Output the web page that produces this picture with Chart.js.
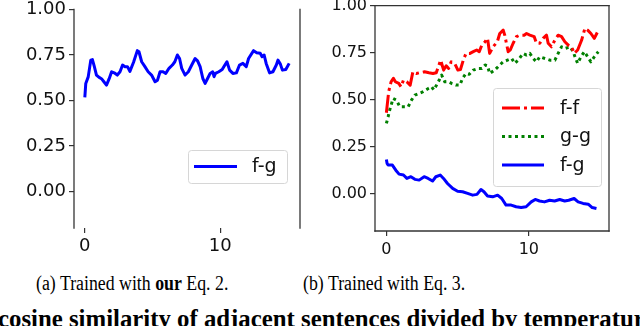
<!DOCTYPE html>
<html><head><meta charset="utf-8">
<script src="https://cdn.jsdelivr.net/npm/chart.js@4"></script>
<style>
html,body{margin:0;padding:0;background:#fff}
body{width:640px;height:326px;overflow:hidden;position:relative}
#c1{position:absolute;left:0;top:-20px;width:320px;height:280px}
#c2{position:absolute;left:320px;top:-20px;width:320px;height:280px}
.cap{position:absolute;font-family:"Liberation Serif","Times New Roman",serif;font-size:20px;white-space:nowrap;color:#000;line-height:1;transform-origin:0 0;transform:scaleX(0.89)}
#capA{left:36px;top:273px}
#capB{left:303px;top:273px}
#foot{left:-2px;top:307px;font-weight:bold;font-size:24.8px;transform:none}
</style></head>
<body>
<canvas id="c1" width="320" height="280"></canvas>
<canvas id="c2" width="320" height="280"></canvas>
<div class="cap" id="capA">(a) Trained with <b>our</b> Eq. 2.</div>
<div class="cap" id="capB">(b) Trained with Eq. 3.</div>
<div class="cap" id="foot">cosine similarity of adjacent sentences divided by temperature</div>
<script>
// ---- data ----
const xTicks = [0, 10];
const yTicks = [0, 0.25, 0.5, 0.75, 1.0];

// (a) Trained with our Eq. 2 : f-g
const aFgX = [0,0.07,0.25,0.44,0.56,0.69,0.86,1.06,1.23,1.41,1.6,1.8,1.98,2.22,2.4,2.6,2.79,2.97,3.15,3.33,3.6,3.88,4.0,4.2,4.44,4.68,4.93,5.19,5.37,5.56,5.78,5.98,6.22,6.47,6.65,6.84,7.0,7.16,7.41,7.65,7.9,8.15,8.33,8.52,8.72,8.89,9.07,9.26,9.45,9.55,9.65,9.9,10.15,10.35,10.5,10.7,10.94,11.2,11.43,11.68,11.93,12.1,12.47,12.7,12.96,13.1,13.25,13.4,13.65,13.9,14.15,14.27,14.45,14.6,14.85,15.1];
const aFgY = [0.517,0.594,0.63,0.722,0.725,0.69,0.64,0.627,0.62,0.603,0.585,0.62,0.658,0.65,0.64,0.658,0.695,0.686,0.686,0.66,0.71,0.774,0.768,0.713,0.686,0.658,0.64,0.603,0.612,0.658,0.658,0.649,0.677,0.695,0.713,0.75,0.731,0.677,0.64,0.658,0.695,0.731,0.718,0.686,0.621,0.594,0.621,0.649,0.658,0.631,0.649,0.658,0.67,0.695,0.713,0.667,0.649,0.652,0.695,0.704,0.686,0.731,0.774,0.763,0.76,0.741,0.75,0.704,0.652,0.658,0.695,0.722,0.7,0.667,0.67,0.704];

// (b) Trained with Eq. 3 : f-f, g-g, f-g
const bFfX = [0,0.16,0.33,0.49,0.63,0.87,1.03,1.2,1.43,1.67,1.86,2.1,2.33,2.68,2.99,3.27,3.5,3.69,3.81,4.02,4.2,4.37,4.55,4.79,5.02,5.2,5.4,5.59,5.87,6.1,6.34,6.52,6.7,6.93,7.1,7.25,7.49,7.79,7.96,8.2,8.31,8.55,8.7,8.9,9.13,9.37,9.67,9.84,10.07,10.38,10.54,10.77,11.0,11.24,11.36,11.59,11.83,12.06,12.3,12.53,12.77,13.0,13.19,13.43,13.71,13.94,14.13,14.36,14.6,14.83];
const bFfY = [0.43,0.542,0.595,0.613,0.595,0.586,0.568,0.604,0.595,0.577,0.648,0.639,0.643,0.648,0.643,0.639,0.643,0.684,0.71,0.657,0.68,0.666,0.701,0.693,0.657,0.66,0.71,0.746,0.746,0.755,0.764,0.755,0.79,0.808,0.826,0.746,0.781,0.808,0.852,0.87,0.843,0.755,0.765,0.8,0.835,0.843,0.843,0.852,0.843,0.835,0.8,0.8,0.826,0.843,0.8,0.781,0.817,0.843,0.835,0.808,0.79,0.781,0.746,0.764,0.817,0.88,0.87,0.852,0.826,0.861];
const bGgX = [0,0.12,0.23,0.47,0.7,0.94,1.22,1.53,1.76,2.0,2.3,2.58,2.94,3.17,3.33,3.52,3.71,3.88,4.1,4.34,4.58,4.88,5.16,5.35,5.59,5.82,6.1,6.46,6.7,6.93,7.1,7.25,7.6,7.96,8.2,8.5,8.8,9.01,9.25,9.6,9.84,10.07,10.31,10.54,10.77,11.13,11.48,11.83,12.06,12.3,12.53,12.89,13.12,13.28,13.43,13.66,13.9,14.13,14.36,14.6,14.88];
const bGgY = [0.373,0.408,0.444,0.506,0.497,0.462,0.462,0.462,0.497,0.524,0.533,0.542,0.559,0.568,0.551,0.577,0.604,0.63,0.595,0.595,0.586,0.577,0.577,0.613,0.639,0.635,0.657,0.666,0.666,0.684,0.68,0.639,0.657,0.684,0.701,0.71,0.719,0.693,0.71,0.746,0.737,0.746,0.719,0.701,0.728,0.719,0.71,0.71,0.746,0.781,0.772,0.781,0.755,0.719,0.693,0.728,0.755,0.728,0.701,0.728,0.755];
const bFgX = [0,0.05,0.12,0.42,0.66,0.89,1.2,1.44,1.72,2.0,2.3,2.65,2.93,3.24,3.47,3.78,4.01,4.29,4.65,5.0,5.35,5.7,6.06,6.36,6.64,6.85,7.1,7.46,7.81,8.1,8.4,8.76,9.11,9.46,9.81,10.17,10.45,10.75,11.1,11.46,11.81,12.17,12.52,12.8,13.18,13.46,13.81,14.17,14.45,14.75];
const bFgY = [0.181,0.16,0.151,0.151,0.124,0.103,0.098,0.08,0.089,0.075,0.071,0.089,0.08,0.066,0.089,0.098,0.08,0.053,0.027,0.012,0.009,0.0,-0.009,-0.005,0.021,0.009,-0.014,-0.018,-0.009,-0.027,-0.062,-0.062,-0.071,-0.075,-0.071,-0.045,-0.032,-0.04,-0.045,-0.036,-0.04,-0.032,-0.04,-0.036,-0.027,-0.045,-0.053,-0.057,-0.075,-0.08];

const pts = (xs, ys) => xs.map((x, i) => ({x, y: ys[i]}));

// ---- plugins ----
const framePlugin = {
  id: 'frame',
  afterDraw(chart, args, opts) {
    const {ctx, chartArea: a} = chart;
    ctx.save();
    ctx.strokeStyle = opts.color; ctx.lineWidth = opts.width; ctx.lineCap = 'square';
    const L = (x0,y0,x1,y1) => { ctx.beginPath(); ctx.moveTo(x0,y0); ctx.lineTo(x1,y1); ctx.stroke(); };
    if (opts.sides.includes('l')) L(a.left, a.top, a.left, a.bottom);
    if (opts.sides.includes('r')) L(a.right, a.top, a.right, a.bottom);
    if (opts.sides.includes('t')) L(a.left, a.top, a.right, a.top);
    if (opts.sides.includes('b')) L(a.left, a.bottom, a.right, a.bottom);
    ctx.restore();
  }
};
const legendPlugin = {
  id: 'boxLegend',
  afterDraw(chart, args, o) {
    const {ctx, chartArea: a} = chart;
    const x0 = a.right - o.right - o.width, y0 = a.bottom - o.bottom - o.height;
    ctx.save();
    ctx.beginPath();
    ctx.roundRect(x0 + 0.5, y0 + 0.5, o.width, o.height, 3);
    ctx.fillStyle = 'rgba(255,255,255,0.8)'; ctx.fill();
    ctx.strokeStyle = '#d6d6d6'; ctx.lineWidth = 1; ctx.stroke();
    o.order.forEach((di, k) => {
      const ds = chart.data.datasets[di];
      const y = y0 + o.first + k * o.step;
      ctx.beginPath();
      ctx.setLineDash(ds.borderDash || []);
      ctx.strokeStyle = ds.borderColor; ctx.lineWidth = ds.borderWidth; ctx.lineCap = 'butt';
      ctx.moveTo(x0 + o.lx0, y); ctx.lineTo(x0 + o.lx1, y); ctx.stroke();
      ctx.setLineDash([]);
      ctx.fillStyle = '#111'; ctx.font = o.font; ctx.textBaseline = 'middle'; ctx.textAlign = 'left';
      ctx.fillText(ds.label, x0 + o.tx, y + 1);
    });
    ctx.restore();
  }
};

function makeChart(id, datasets, cfg) {
  const tickFont = {family: 'DejaVu Sans', size: cfg.tickSize};
  return new Chart(document.getElementById(id), {
    type: 'line',
    data: {datasets},
    options: {
      responsive: false, animation: false, devicePixelRatio: 1,
      layout: {padding: {top: cfg.padTop, right: cfg.padRight, left: 0, bottom: 0}},
      elements: {point: {radius: 0}, line: {tension: 0, borderCapStyle: 'butt', borderJoinStyle: 'round'}},
      plugins: {legend: {display: false}, tooltip: {enabled: false},
        frame: {sides: cfg.sides, color: '#333', width: 1.3},
        boxLegend: cfg.legend},
      scales: {
        x: {type: 'linear', min: cfg.xMin, max: cfg.xMax,
          afterBuildTicks: s => { s.ticks = xTicks.map(v => ({value: v})); },
          afterFit: s => { s.height = cfg.xH; },
          border: {display: false},
          grid: {display: true, drawOnChartArea: false, drawTicks: true, tickLength: 5, color: '#333', lineWidth: 1.2},
          ticks: {font: tickFont, color: '#111', padding: cfg.xPad, maxRotation: 0, callback: v => String(v)}},
        y: {type: 'linear', min: -0.2, max: 1.0,
          afterBuildTicks: s => { s.ticks = yTicks.map(v => ({value: v})); },
          afterFit: s => { s.width = cfg.yW; },
          border: {display: false},
          grid: {display: true, drawOnChartArea: false, drawTicks: true, tickLength: 5, color: '#333', lineWidth: 1.2},
          ticks: {font: tickFont, color: '#111', padding: 3, callback: v => Number(v).toFixed(2)}}
      }
    },
    plugins: [framePlugin, legendPlugin]
  });
}

makeChart('c1', [
  {label: 'f-g', data: pts(aFgX, aFgY), borderColor: '#0000ff', borderWidth: 3}
], {tickSize: 18, padTop: 29.5, padRight: 20, yW: 74, xH: 32, xPad: 3,
    xMin: -0.8, xMax: 15.9, sides: 'lr',
    legend: {right: 13, bottom: 45, width: 99, height: 33, first: 16.5, step: 0, lx0: 6, lx1: 49, tx: 64, order: [0], font: '19px "DejaVu Sans"'}});

makeChart('c2', [
  {label: 'f-f', data: pts(bFfX, bFfY), borderColor: '#ff0000', borderWidth: 3, borderDash: [18, 4, 3, 4]},
  {label: 'g-g', data: pts(bGgX, bGgY), borderColor: '#008000', borderWidth: 3, borderDash: [3, 3.5]},
  {label: 'f-g', data: pts(bFgX, bFgY), borderColor: '#0000ff', borderWidth: 3}
], {tickSize: 16, padTop: 25.7, padRight: 31, yW: 55, xH: 29, xPad: 4,
    xMin: -0.8, xMax: 15.63, sides: 'lrtb',
    legend: {right: 8, bottom: 45, width: 108, height: 98, first: 20, step: 28.5, lx0: 9, lx1: 51, tx: 67, order: [0, 1, 2], font: '19px "DejaVu Sans"'}});
</script>
</body></html>
